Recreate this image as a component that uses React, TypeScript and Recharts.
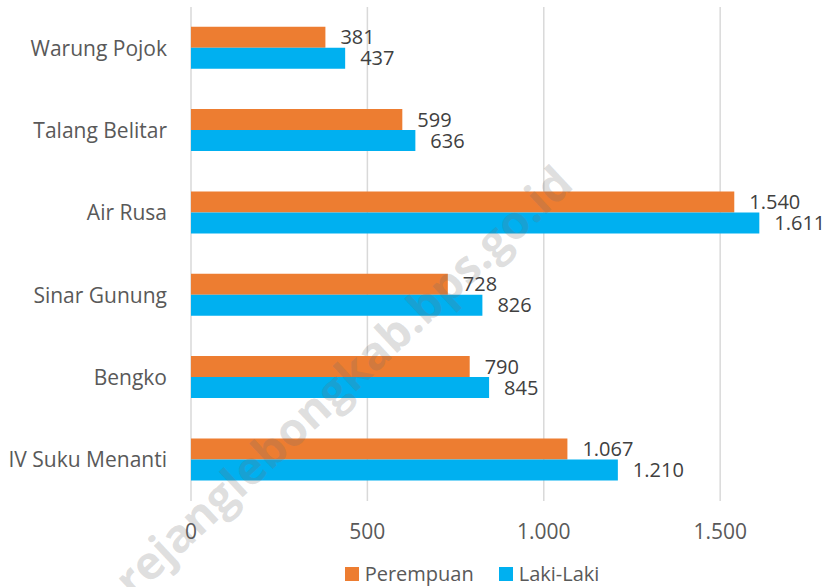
import { Bar, BarChart, CartesianGrid, LabelList, Legend, XAxis, YAxis } from "recharts"

const categories = ["Warung Pojok", "Talang Belitar", "Air Rusa", "Sinar Gunung", "Bengko", "IV Suku Menanti"]
const perempuan = [381, 599, 1540, 728, 790, 1067]
const lakiLaki = [437, 636, 1611, 826, 845, 1210]
const xTicks = [0, 500, 1000, 1500]

const series = [
  { key: "Perempuan", color: "#ED7D31", values: perempuan },
  { key: "Laki-Laki", color: "#00B0F0", values: lakiLaki },
]

const data = categories.map((name, i) => ({
  name,
  Perempuan: perempuan[i],
  "Laki-Laki": lakiLaki[i],
}))

const fmt = (v: number) => v.toLocaleString("de-DE")

const FONT = "'Open Sans', sans-serif"

function LegendBox() {
  return (
    <div style={{ display: "flex", justifyContent: "center", gap: 25, fontFamily: FONT, fontSize: 20, color: "#595959", paddingLeft: 118 }}>
      {series.map((s) => (
        <div key={s.key} style={{ display: "flex", alignItems: "center", gap: 6 }}>
          <span style={{ width: 14, height: 14, background: s.color, display: "inline-block" }} />
          <span>{s.key}</span>
        </div>
      ))}
    </div>
  )
}

export default function App() {
  return (
    <div style={{ position: "absolute", left: 0, top: 0, width: 834, height: 587, background: "#fff", overflow: "hidden" }}>
      <BarChart
        width={834}
        height={587}
        data={data}
        layout="vertical"
        margin={{ top: 7, right: 8, left: 0, bottom: 0 }}
        barCategoryGap="24%"
        barGap={0}
      >
        <CartesianGrid horizontal={false} verticalValues={xTicks} stroke="#d9d9d9" strokeWidth={1.5} />
        <XAxis
          type="number"
          domain={[0, 1800]}
          ticks={xTicks}
          tickFormatter={fmt}
          axisLine={false}
          tickLine={false}
          tickSize={0}
          tickMargin={23}
          height={59}
          tick={{ fill: "#595959", fontSize: 21, fontFamily: FONT }}
        />
        <YAxis
          type="category"
          dataKey="name"
          width={191}
          axisLine={false}
          tickLine={false}
          tickSize={0}
          tickMargin={24}
          tick={{ fill: "#595959", fontSize: 21, fontFamily: FONT }}
        />
        <Legend verticalAlign="bottom" height={27} content={<LegendBox />} />
        {series.map((s) => (
          <Bar key={s.key} dataKey={s.key} fill={s.color} isAnimationActive={false}>
            <LabelList
              dataKey={s.key}
              position="right"
              offset={15}
              formatter={(v: any) => fmt(v)}
              style={{ fill: "#404040", fontSize: 20, fontFamily: FONT }}
            />
          </Bar>
        ))}
      </BarChart>
      <div
        style={{
          position: "absolute",
          left: 342,
          top: 380,
          transform: "translate(-50%, -50%) rotate(-43deg)",
          whiteSpace: "nowrap",
          fontFamily: FONT,
          fontWeight: 700,
          fontSize: 46,
          color: "rgba(110,110,110,0.22)",
          pointerEvents: "none",
        }}
      >
        rejanglebongkab.bps.go.id
      </div>
    </div>
  )
}
